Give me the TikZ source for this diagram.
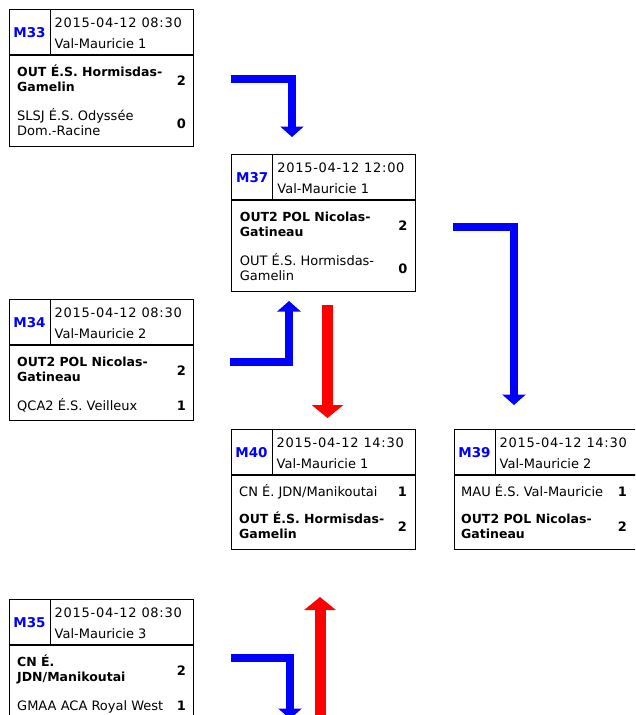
\documentclass[tikz,border=0pt]{standalone}
\usepackage{fontspec}
\setmainfont{DejaVu Sans}
\newfontfamily\datefont[LetterSpace=5.5]{DejaVu Sans}
\usetikzlibrary{arrows.meta}
\definecolor{tagblue}{RGB}{0,0,255}
\definecolor{arrblue}{RGB}{0,0,255}
\definecolor{arrred}{RGB}{255,0,0}
\tikzset{
  frame/.style={draw=black, line width=1pt, anchor=north west, minimum width=184pt, inner sep=0pt, outer sep=0pt},
  hdiv/.style={line width=1.6pt},
  vdiv/.style={line width=0.8pt},
  tagtext/.style={font=\bfseries\fontsize{13.5}{15}\selectfont, text=tagblue, inner sep=0pt, anchor=center},
  datetext/.style={font=\datefont\fontsize{13}{15}\selectfont, inner sep=0pt, anchor=base west},
  venuetext/.style={font=\fontsize{13}{15}\selectfont, inner sep=0pt, anchor=base west},
  teamn/.style={font=\fontsize{13}{15}\selectfont, inner sep=0pt, anchor=base west},
  teamb/.style={font=\bfseries\fontsize{12.5}{15}\selectfont, inner sep=0pt, anchor=base west},
  score/.style={font=\bfseries\fontsize{13}{15}\selectfont, inner sep=0pt, anchor=base east},
  bluearrow/.style={draw=arrblue, line width=8pt, line join=miter, -{Triangle[width=23pt,length=10.5pt]}},
  redarrow/.style={draw=arrred, line width=11pt, -{Triangle[width=31pt,length=13pt]}},
}
% name, L, T, H, tag, date, venue
\newcommand\gamehead[7]{%
  \begin{scope}[shift={(#2,#3)}]
    \node[frame, minimum height=#4pt] (#1) at (0,0) {};
    \draw[hdiv] (0,46) -- (184,46);
    \draw[vdiv] (41,0) -- (41,46);
    \node[tagtext] (#1tag) at (20.5,23.3) {#5};
    \node[datetext] (#1date) at (45.5,18) {#6};
    \node[venuetext] (#1venue) at (45.5,39) {#7};
  \end{scope}}
\begin{document}
\begin{tikzpicture}[x=1pt,y=-1pt]
\useasboundingbox (0,0) rectangle (635,715);
\clip (0,0) rectangle (635,715);

% M33
\gamehead{m33}{9}{9}{137.7}{M33}{2015-04-12 08:30}{Val-Mauricie 1}
\begin{scope}[shift={(9,9)}]
  \node[teamb] (m33a1) at (8,67.7) {OUT É.S. Hormisdas-};
  \node[teamb] (m33a2) at (8,82.2) {Gamelin};
  \node[score] (m33as) at (177,76.2) {2};
  \node[teamn] (m33b1) at (8,111.7) {SLSJ É.S. Odyssée};
  \node[teamn] (m33b2) at (8,126.7) {Dom.-Racine};
  \node[score] (m33bs) at (177,119.5) {0};
\end{scope}

% M37
\gamehead{m37}{231.7}{154}{137.7}{M37}{2015-04-12 12:00}{Val-Mauricie 1}
\begin{scope}[shift={(231.7,154)}]
  \node[teamb] (m37a1) at (8,67.7) {OUT2 POL Nicolas-};
  \node[teamb] (m37a2) at (8,82.2) {Gatineau};
  \node[score] (m37as) at (176,76.2) {2};
  \node[teamn] (m37b1) at (8,111.7) {OUT É.S. Hormisdas-};
  \node[teamn] (m37b2) at (8,126.7) {Gamelin};
  \node[score] (m37bs) at (176,119.5) {0};
\end{scope}

% M34
\gamehead{m34}{9}{299}{121}{M34}{2015-04-12 08:30}{Val-Mauricie 2}
\begin{scope}[shift={(9,299)}]
  \node[teamb] (m34a1) at (8,67.7) {OUT2 POL Nicolas-};
  \node[teamb] (m34a2) at (8,82.2) {Gatineau};
  \node[score] (m34as) at (177,76.2) {2};
  \node[teamn] (m34b1) at (8,111) {QCA2 É.S. Veilleux};
  \node[score] (m34bs) at (177,111) {1};
\end{scope}

% M40
\gamehead{m40}{231}{429}{120}{M40}{2015-04-12 14:30}{Val-Mauricie 1}
\begin{scope}[shift={(231,429)}]
  \node[teamn] (m40a1) at (8,67) {CN É. JDN/Manikoutai};
  \node[score] (m40as) at (176,67) {1};
  \node[teamb] (m40b1) at (8,94.3) {OUT É.S. Hormisdas-};
  \node[teamb] (m40b2) at (8,109) {Gamelin};
  \node[score] (m40bs) at (176,102.8) {2};
\end{scope}

% M39
\gamehead{m39}{454}{429}{120}{M39}{2015-04-12 14:30}{Val-Mauricie 2}
\begin{scope}[shift={(454,429)}]
  \node[teamn] (m39a1) at (7,67) {MAU É.S. Val-Mauricie};
  \node[score] (m39as) at (173,67) {1};
  \node[teamb] (m39b1) at (7,94.3) {OUT2 POL Nicolas-};
  \node[teamb] (m39b2) at (7,109) {Gatineau};
  \node[score] (m39bs) at (173,102.8) {2};
\end{scope}

% M35
\gamehead{m35}{9}{599}{121}{M35}{2015-04-12 08:30}{Val-Mauricie 3}
\begin{scope}[shift={(9,599)}]
  \node[teamb] (m35a1) at (8,67.7) {CN É.};
  \node[teamb] (m35a2) at (8,82.2) {JDN/Manikoutai};
  \node[score] (m35as) at (177,76.2) {2};
  \node[teamn] (m35b1) at (8,111) {GMAA ACA Royal West};
  \node[score] (m35bs) at (177,111) {1};
\end{scope}

% connectors
\coordinate (a1s) at (231,79);
\coordinate (a1e) at (292,137);
\draw[bluearrow] (a1s) -| (a1e);

\coordinate (a2s) at (230,362);
\coordinate (a2e) at (289,301);
\draw[bluearrow] (a2s) -| (a2e);

\coordinate (r1s) at (327.5,305);
\coordinate (r1e) at (327.5,418);
\draw[redarrow] (r1s) -- (r1e);

\coordinate (a3s) at (453,227);
\coordinate (a3e) at (514,405);
\draw[bluearrow] (a3s) -| (a3e);

\coordinate (a4s) at (231,657.5);
\coordinate (a4e) at (290,719);
\draw[bluearrow] (a4s) -| (a4e);

\coordinate (r2s) at (320,730);
\coordinate (r2e) at (320,597);
\draw[redarrow] (r2s) -- (r2e);
\end{tikzpicture}
\end{document}
